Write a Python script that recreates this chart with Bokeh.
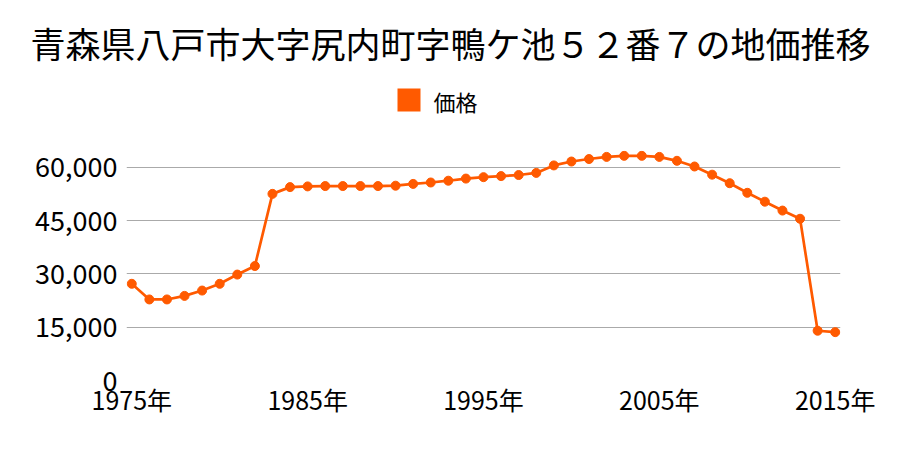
from bokeh.plotting import figure
from bokeh.layouts import column
from bokeh.models import Range1d, FixedTicker, ColumnDataSource
from bokeh.core.properties import value
from bokeh.embed import file_html
from bokeh.resources import INLINE

title_text = "青森県八戸市大字尻内町字鴨ケ池５２番７の地価推移"
series_name = "価格"
years = list(range(1975, 2016))
prices = [27200, 22800, 22800, 23800, 25300, 27200, 29800, 32200, 52500, 54400,
          54600, 54700, 54700, 54700, 54700, 54800, 55300, 55700, 56200, 56800,
          57200, 57500, 57800, 58400, 60500, 61600, 62300, 62900, 63200, 63200,
          62900, 61800, 60200, 57900, 55500, 52800, 50300, 47800, 45500, 14000, 13600]
x_ticks = [1975, 1985, 1995, 2005, 2015]
x_tick_labels = ["1975年", "1985年", "1995年", "2005年", "2015年"]
y_ticks = [0, 15000, 30000, 45000, 60000]
y_tick_labels = ["0", "15,000", "30,000", "45,000", "60,000"]

FONT = "Noto Sans CJK JP"
COLOR = "#ff5a00"

# ---- header: title + legend ----
h = figure(width=900, height=120, output_backend="svg", toolbar_location=None,
           x_range=Range1d(0, 900), y_range=Range1d(120, 0),
           x_axis_type=None, y_axis_type=None, min_border=0)
h.frame_align = False
h.outline_line_color = None
h.grid.grid_line_color = None
h.text(x=[450], y=[42], text=[title_text], text_font=value(FONT),
       text_font_size="35px", text_align="center", text_baseline="middle",
       text_color="#000000")
h.quad(left=[397], right=[420], top=[88], bottom=[111], fill_color=COLOR,
       line_color=None)
h.text(x=[433], y=[100], text=[series_name], text_font=value(FONT),
       text_font_size="22px", text_align="left", text_baseline="middle",
       text_color="#000000")

# ---- main chart ----
p = figure(width=900, height=330, output_backend="svg", toolbar_location=None,
           x_range=Range1d(1974.7, 2015.3), y_range=Range1d(0, 64700),
           min_border_left=126, min_border_right=60, min_border_bottom=70,
           min_border_top=30)
p.frame_align = False
p.outline_line_color = None

src = ColumnDataSource(dict(x=years, y=prices))
p.line("x", "y", source=src, line_color=COLOR, line_width=2.7)
p.scatter("x", "y", source=src, size=9, fill_color=COLOR, line_color=COLOR)

p.xaxis.ticker = FixedTicker(ticks=x_ticks)
p.xaxis.major_label_overrides = dict(zip(x_ticks, x_tick_labels))
p.yaxis.ticker = FixedTicker(ticks=y_ticks)
p.yaxis.major_label_overrides = dict(zip(y_ticks, y_tick_labels))
for ax in (p.xaxis, p.yaxis):
    ax.axis_line_color = None
    ax.major_tick_line_color = None
    ax.minor_tick_line_color = None
    ax.major_tick_out = 0
    ax.major_tick_in = 0
    ax.major_label_text_font = FONT
    ax.major_label_text_color = "#000000"
p.xaxis.major_label_text_font_size = "25px"
p.yaxis.major_label_text_font_size = "27px"
p.xaxis.major_label_standoff = 0
p.yaxis.major_label_standoff = 9

p.xgrid.grid_line_color = None
p.ygrid.grid_line_color = "#aaaaaa"
p.ygrid.grid_line_width = 1

layout = column(h, p, spacing=0)
open("out.html", "w").write(file_html(layout, INLINE))
